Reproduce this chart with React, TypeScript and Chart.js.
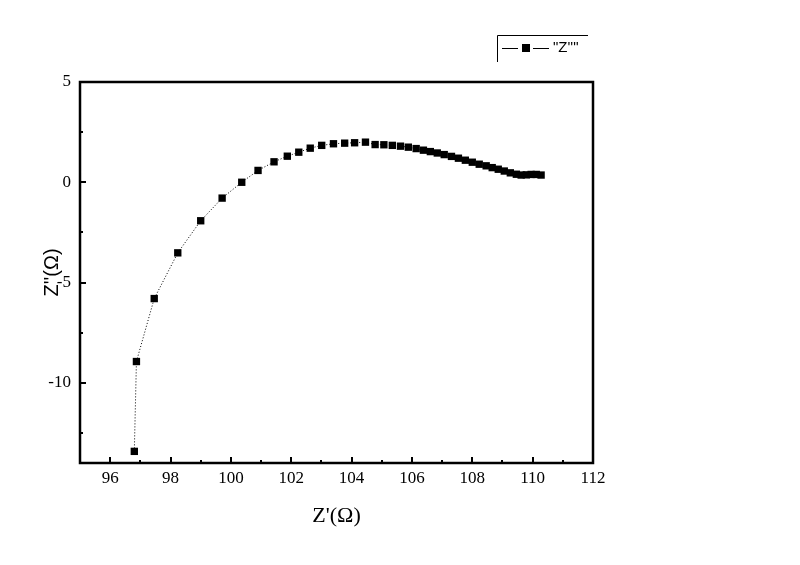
import React, { useEffect, useRef } from "react";
import { Chart, registerables } from "chart.js";

Chart.register(...registerables);

const zReal = [
  96.8, 96.87, 97.46, 98.24, 99.0, 99.71, 100.36, 100.9, 101.43, 101.87, 102.25,
  102.63, 103.01, 103.4, 103.77, 104.1, 104.46, 104.78, 105.07, 105.35, 105.62,
  105.88, 106.14, 106.38, 106.61, 106.84, 107.07, 107.31, 107.54, 107.77, 108.0,
  108.23, 108.46, 108.66, 108.86, 109.06, 109.26, 109.46, 109.62, 109.79, 109.95,
  110.12, 110.28,
];
const zImag = [
  -13.42, -8.94, -5.8, -3.52, -1.92, -0.79, 0.0, 0.59, 1.02, 1.3, 1.5,
  1.7, 1.84, 1.92, 1.95, 1.97, 2.0, 1.88, 1.87, 1.84, 1.8,
  1.75, 1.68, 1.6, 1.53, 1.46, 1.38, 1.29, 1.2, 1.1, 1.0,
  0.9, 0.82, 0.73, 0.65, 0.56, 0.47, 0.4, 0.36, 0.37, 0.39,
  0.39, 0.36,
];

const xTickValues = [96, 98, 100, 102, 104, 106, 108, 110, 112];
const xMinorValues = [97, 99, 101, 103, 105, 107, 109, 111];
const yTickValues = [5, 0, -5, -10];
const yMinorValues = [2.5, -2.5, -7.5, -12.5];

const seriesLabel = "\"Z''\"";
const xTitle = "Z'(\u03A9)";
const yTitle = "Z''(\u03A9)";

const serif = "'Times New Roman', 'Liberation Serif', serif";
const sans = "Arial, 'Liberation Sans', sans-serif";

const framePlugin = {
  id: "originFrame",
  afterDraw(chart: any) {
    const { ctx, chartArea, scales } = chart;
    const { left, right, top, bottom } = chartArea;
    const xs = scales.x;
    const ys = scales.y;
    ctx.save();
    ctx.strokeStyle = "#000";
    ctx.lineWidth = 2.5;
    ctx.strokeRect(left, top, right - left, bottom - top);

    ctx.lineWidth = 2;
    ctx.beginPath();
    for (const v of xTickValues) {
      const px = Math.round(xs.getPixelForValue(v));
      ctx.moveTo(px, bottom);
      ctx.lineTo(px, bottom - 6);
    }
    for (const v of xMinorValues) {
      const px = Math.round(xs.getPixelForValue(v));
      ctx.moveTo(px, bottom);
      ctx.lineTo(px, bottom - 3);
    }
    for (const v of yTickValues) {
      const py = Math.round(ys.getPixelForValue(v));
      ctx.moveTo(left, py);
      ctx.lineTo(left + 6, py);
    }
    for (const v of yMinorValues) {
      const py = Math.round(ys.getPixelForValue(v));
      ctx.moveTo(left, py);
      ctx.lineTo(left + 3, py);
    }
    ctx.stroke();

    // Legend box (Origin style, partially framed)
    ctx.lineWidth = 1;
    ctx.beginPath();
    ctx.moveTo(497.5, 35.5);
    ctx.lineTo(588, 35.5);
    ctx.moveTo(497.5, 35.5);
    ctx.lineTo(497.5, 62);
    ctx.moveTo(502, 48.5);
    ctx.lineTo(518, 48.5);
    ctx.moveTo(533, 48.5);
    ctx.lineTo(549, 48.5);
    ctx.stroke();
    ctx.fillStyle = "#000";
    ctx.fillRect(522, 44, 8, 8);
    ctx.font = "15px " + sans;
    ctx.textBaseline = "middle";
    ctx.textAlign = "left";
    ctx.fillText(chart.data.datasets[0].label, 553, 48);
    ctx.restore();
  },
};

export default function App() {
  const canvasRef = useRef<HTMLCanvasElement | null>(null);

  useEffect(() => {
    const canvas = canvasRef.current;
    if (!canvas) return;
    const chart = new Chart(canvas, {
      type: "scatter",
      data: {
        datasets: [
          {
            label: seriesLabel,
            data: zReal.map((x, i) => ({ x, y: zImag[i] })),
            showLine: true,
            borderColor: "#000",
            borderWidth: 1,
            borderDash: [1, 2],
            pointStyle: "rect",
            pointRadius: 5.2,
            pointHoverRadius: 5.2,
            pointBackgroundColor: "#000",
            pointBorderColor: "#000",
            pointBorderWidth: 0,
            tension: 0,
          },
        ],
      },
      options: {
        animation: false,
        responsive: true,
        maintainAspectRatio: false,
        layout: { padding: { top: 82, right: 207, bottom: 0, left: 0 } },
        plugins: {
          legend: { display: false },
          tooltip: { enabled: false },
        },
        scales: {
          x: {
            type: "linear",
            position: "bottom",
            min: 95,
            max: 112,
            afterBuildTicks: (s: any) => {
              s.ticks = xTickValues.map((v) => ({ value: v }));
            },
            afterFit: (s: any) => {
              s.height = 102;
            },
            grid: { display: false, drawTicks: false },
            border: { display: false },
            ticks: {
              padding: 5,
              color: "#000",
              maxRotation: 0,
              autoSkip: false,
              font: { family: serif, size: 17 },
            },
            title: {
              display: true,
              text: xTitle,
              color: "#000",
              font: { family: serif, size: 22 },
              padding: { top: 0, bottom: 36 },
            },
          },
          y: {
            type: "linear",
            position: "left",
            min: -14,
            max: 5,
            afterBuildTicks: (s: any) => {
              s.ticks = yTickValues.map((v) => ({ value: v }));
            },
            afterFit: (s: any) => {
              s.width = 80;
            },
            grid: { display: false, drawTicks: false },
            border: { display: false },
            ticks: {
              padding: 9,
              color: "#000",
              autoSkip: false,
              font: { family: serif, size: 17 },
            },
            title: {
              display: true,
              text: yTitle,
              color: "#000",
              font: { family: sans, size: 20 },
              padding: { top: 40, bottom: 0 },
            },
          },
        },
      },
      plugins: [framePlugin],
    } as any);
    return () => chart.destroy();
  }, []);

  return (
    <div
      style={{
        position: "fixed",
        left: 0,
        top: 0,
        width: 800,
        height: 565,
        background: "#fff",
      }}
    >
      <canvas ref={canvasRef} />
    </div>
  );
}
